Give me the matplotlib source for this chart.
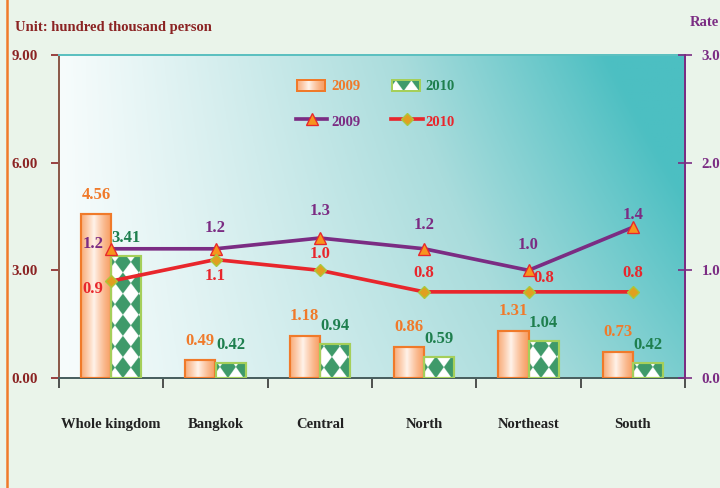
import numpy as np
import matplotlib
matplotlib.use("Agg")
import matplotlib.pyplot as plt
from matplotlib.patches import Rectangle
from matplotlib.lines import Line2D
from matplotlib.colors import to_rgb

categories = ["Whole kingdom", "Bangkok", "Central", "North", "Northeast", "South"]
pop_2009 = [4.56, 0.49, 1.18, 0.86, 1.31, 0.73]
pop_2010 = [3.41, 0.42, 0.94, 0.59, 1.04, 0.42]
rate_2009 = [1.2, 1.2, 1.3, 1.2, 1.0, 1.4]
rate_2010 = [0.9, 1.1, 1.0, 0.8, 0.8, 0.8]
left_ticks = [0.0, 3.0, 6.0, 9.0]
right_ticks = [0.0, 1.0, 2.0, 3.0]

# label offsets (points) for rate annotations (text centred)
off_r09 = [(-11, 3), (0, 12.5), (0, 16.5), (0, 14), (0, 15), (0, 7.5)]
off_r10 = [(-11, -5), (0, -10), (0, 9.5), (0, 11.4), (9, 8.4), (0, 11.4)]

plt.rcParams['font.family'] = ['Liberation Serif', 'DejaVu Serif']
plt.rcParams['font.weight'] = 'bold'

BG = '#EAF4EA'
ORANGE = '#F07A2A'
GREEN_T = '#1E7F4E'
PURPLE = '#7B2C83'
RED = '#E8262C'
DARKRED = '#8B2323'
GREEN_F = np.array(to_rgb('#3F9A6A'))
WHITE = np.array([1.0, 1.0, 1.0])

fig = plt.figure(figsize=(6, 488/120), dpi=120, facecolor=BG)
pos = [59/720, 1-378/488, 626/720, 323/488]
AX_W, AX_H = 626, 323  # axes size in px

# background gradient axes
bg = fig.add_axes(pos, zorder=0)
nx, ny = 300, 150
xx, yy = np.meshgrid(np.linspace(0, 1, nx), np.linspace(0, 1, ny))
f = np.clip(0.8*xx**1.1 + 0.35*yy*xx, 0, 1)
c0 = np.array(to_rgb('#F7FCFC'))
c1 = np.array(to_rgb('#A9DCDC'))
c2 = np.array(to_rgb('#4CBFC2'))
img = np.where(f[..., None] < 0.6,
               c0 + (c1-c0)*(f[..., None]/0.6),
               c1 + (c2-c1)*((f[..., None]-0.6)/0.4))
img = np.clip(img, 0, 1)
bg.imshow(img, origin='lower', extent=[0, 1, 0, 1], aspect='auto')
bg.set_xlim(0, 1); bg.set_ylim(0, 1)
bg.axis('off')

ax = fig.add_axes(pos, zorder=1)
ax.patch.set_alpha(0)
n = len(categories)
x = np.arange(n)
w = 0.29
XLIM = (-0.5, n - 0.5)
YLIM = (0, 9)
ppx = AX_W / (XLIM[1] - XLIM[0])   # px per x unit
ppy = AX_H / (YLIM[1] - YLIM[0])   # px per y unit


def diamond_texture(wpx, hpx, Px=15.5, Py=21.0, ss=4):
    cols = max(int(wpx * ss), 2)
    rows = max(int(hpx * ss), 2)
    u = (np.arange(cols) + 0.5) / ss
    v = (np.arange(rows) + 0.5) / ss
    U, V = np.meshgrid(u, v)
    V = hpx - V  # from top
    a = U / Px + V / Py + 0.25
    b = U / Px - V / Py + 0.25
    m = (np.floor(a) + np.floor(b)) % 2
    return np.where(m[..., None] > 0.5, GREEN_F, WHITE)


# orange gradient bars
t = np.linspace(0, 1, 64)
prof = np.clip(1 - np.abs(t-0.42)/0.55, 0, 1)**1.3
oc = np.array(to_rgb('#F8A168'))
wc = np.array(to_rgb('#FFF3EA'))
grad = (oc + (wc-oc)*prof[:, None])[None, :, :]
for xi, v in zip(x, pop_2009):
    r = Rectangle((xi - w, 0), w, v, facecolor='none', edgecolor=ORANGE, lw=1.3, zorder=3)
    ax.add_patch(r)
    im = ax.imshow(grad, extent=[xi - w, xi, 0, v], aspect='auto', zorder=2)
    im.set_clip_path(r)
    ax.annotate(f"{v:.2f}", (xi - w/2, v), xytext=(0, 7), textcoords='offset points',
                ha='center', va='bottom', color=ORANGE, fontsize=10, fontweight='bold')

for xi, v in zip(x, pop_2010):
    r = Rectangle((xi, 0), w, v, fill=False, edgecolor='#A5CF5A', lw=1.3, zorder=3)
    ax.add_patch(r)
    tex = diamond_texture(w * ppx, v * ppy)
    im = ax.imshow(tex, extent=[xi, xi + w, 0, v], aspect='auto', zorder=2,
                   interpolation='antialiased', origin='upper')
    im.set_clip_path(r)
    ax.annotate(f"{v:.2f}", (xi + w/2, v), xytext=(0, 6), textcoords='offset points',
                ha='center', va='bottom', color=GREEN_T, fontsize=10, fontweight='bold')

ax.set_xlim(*XLIM)
ax.set_ylim(*YLIM)
ax.set_yticks(left_ticks)
ax.set_yticklabels([f"{v:.2f}" for v in left_ticks], color=DARKRED, fontsize=9)
ax.tick_params(axis='y', length=4.8, width=1, color=DARKRED, pad=8, direction='out')
ax.set_xticks(x)
ax.set_xticklabels(categories, fontsize=8.8, color='#222222')
ax.tick_params(axis='x', length=0, pad=24)
ax.set_xticks(np.arange(n + 1) - 0.5, minor=True)
ax.tick_params(axis='x', which='minor', length=6, width=1, color='#333333', direction='out')
ax.spines['left'].set_color('#8B5A4A')
ax.spines['top'].set_color('#5CC0C0')
ax.spines['bottom'].set_color('#4A6060')
ax.spines['right'].set_visible(False)
for s in ax.spines.values():
    s.set_linewidth(1.2)

ax2 = ax.twinx()
ax2.set_zorder(2)
ax2.patch.set_alpha(0)
ax2.set_ylim(0, 3)
ax2.plot(x, rate_2009, color=PURPLE, lw=2.2, marker='^', ms=7.5, mfc='#F7941D', mec=RED, mew=0.8, zorder=4)
ax2.plot(x, rate_2010, color=RED, lw=2.2, marker='D', ms=5, mfc='#E0A020', mec='#A8C83C', mew=0.8, zorder=4)
for xi, v, o in zip(x, rate_2009, off_r09):
    ax2.annotate(f"{v:.1f}", (xi, v), xytext=o, textcoords='offset points', ha='center',
                 va='center', color=PURPLE, fontsize=10, fontweight='bold')
for xi, v, o in zip(x, rate_2010, off_r10):
    ax2.annotate(f"{v:.1f}", (xi, v), xytext=o, textcoords='offset points', ha='center',
                 va='center', color=RED, fontsize=10, fontweight='bold')
ax2.set_yticks(right_ticks)
ax2.set_yticklabels([f"{v:.1f}" for v in right_ticks], color=PURPLE, fontsize=9)
ax2.tick_params(axis='y', length=8, width=1, color=PURPLE, direction='inout', pad=6)
for k in ['left', 'top', 'bottom']:
    ax2.spines[k].set_visible(False)
ax2.spines['right'].set_color(PURPLE)
ax2.spines['right'].set_linewidth(1.2)

# legend (manual)
def px(xp, yp):
    return ((xp - 59)/AX_W, (378 - yp)/AX_H)

lx, ly = px(297, 91)
lw_, lh = 28/AX_W, 11/AX_H
r = Rectangle((lx, ly), lw_, lh, transform=ax.transAxes, facecolor='none', edgecolor=ORANGE, lw=1.2, zorder=5)
ax.add_patch(r)
gi = ax.imshow(grad, extent=[lx, lx+lw_, ly, ly+lh], transform=ax.transAxes, aspect='auto', zorder=4)
gi.set_clip_path(r)
tx, ty = px(331, 87)
ax.text(tx, ty, "2009", transform=ax.transAxes, color=ORANGE, fontsize=8.8, va='center', ha='left')

lx2, _ = px(392, 0)
r2 = Rectangle((lx2, ly), lw_, lh, transform=ax.transAxes, fill=False,
               edgecolor='#A5CF5A', lw=1.2, zorder=5)
ax.add_patch(r2)
ti = ax.imshow(diamond_texture(28, 11), extent=[lx2, lx2+lw_, ly, ly+lh], transform=ax.transAxes,
               aspect='auto', zorder=4, origin='upper')
ti.set_clip_path(r2)
tx2, _ = px(425, 0)
ax.text(tx2, ty, "2010", transform=ax.transAxes, color=GREEN_T, fontsize=8.8, va='center', ha='left')

a, b = px(296, 119)
c, _ = px(327, 119)
ax2.add_line(Line2D([a, c], [b, b], transform=ax.transAxes, color=PURPLE, lw=2.2, zorder=6))
ax2.add_line(Line2D([(a+c)/2], [b], transform=ax.transAxes, marker='^', ms=7.5, mfc='#F7941D', mec=RED, mew=0.8, zorder=7))
_, ty2 = px(0, 123)
ax.text(tx, ty2, "2009", transform=ax.transAxes, color=PURPLE, fontsize=8.8, va='center', ha='left')
a2, _ = px(391, 0)
c2_, _ = px(423, 0)
ax2.add_line(Line2D([a2, c2_], [b, b], transform=ax.transAxes, color=RED, lw=2.2, zorder=6))
ax2.add_line(Line2D([(a2+c2_)/2], [b], transform=ax.transAxes, marker='D', ms=5, mfc='#E0A020', mec='#A8C83C', mew=0.8, zorder=7))
ax.text(tx2, ty2, "2010", transform=ax.transAxes, color=RED, fontsize=8.8, va='center', ha='left')

ax.set_xlim(*XLIM)
ax.set_ylim(*YLIM)

fig.text(15/720, 1-27/488, "Unit: hundred thousand person", color=DARKRED, fontsize=8.8, ha='left', va='center')
fig.text(690/720, 1-22/488, "Rate", color=PURPLE, fontsize=8.8, ha='left', va='center')
fig.add_artist(Line2D([7/720, 7/720], [0, 1], transform=fig.transFigure, color=ORANGE, lw=1.5))

fig.savefig("out.png", dpi=120, facecolor=BG)
